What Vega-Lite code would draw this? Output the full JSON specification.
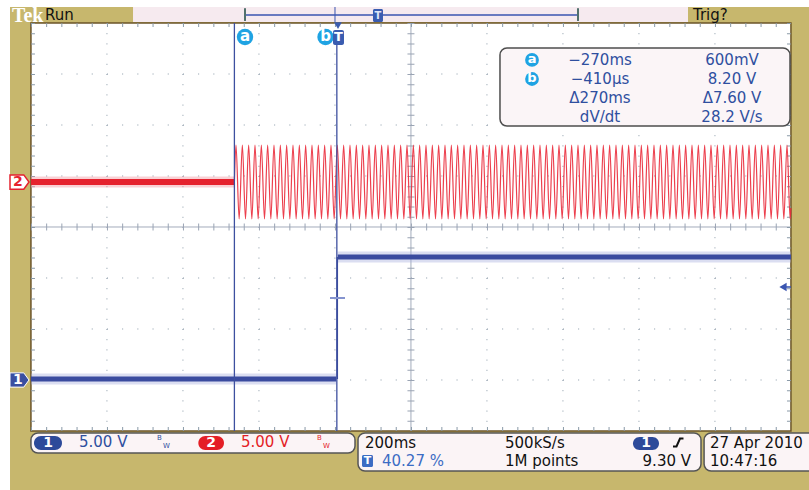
{
"$schema": "https://vega.github.io/schema/vega-lite/v6.json",
"width": 809, "height": 490, "padding": 0,
"autosize": {"type": "fit", "contains": "padding"},
"background": "#ffffff",
"config": {"view": {"stroke": null}, "text": {"font": "DejaVu Sans"}},
"datasets": {
"frame": [{"t": -860.5, "t2": 1300, "y": 4.314, "y2": -6}],
"topstrip": [{"t": -536.8, "t2": 923.7, "y": 4.314, "y2": 4.02}],
"screen": [{"t": -805.4, "t2": 1194.6, "y": 4, "y2": -4}],
"vgrid": [{"t": -605.4, "y": 4, "y2": -4}, {"t": -405.4, "y": 4, "y2": -4}, {"t": -205.4, "y": 4, "y2": -4}, {"t": -5.4, "y": 4, "y2": -4}, {"t": 394.6, "y": 4, "y2": -4}, {"t": 594.6, "y": 4, "y2": -4}, {"t": 794.6, "y": 4, "y2": -4}, {"t": 994.6, "y": 4, "y2": -4}],
"hgrid": [{"t": -805.4, "t2": 1194.6, "y": 3}, {"t": -805.4, "t2": 1194.6, "y": 2}, {"t": -805.4, "t2": 1194.6, "y": 1}, {"t": -805.4, "t2": 1194.6, "y": -1}, {"t": -805.4, "t2": 1194.6, "y": -2}, {"t": -805.4, "t2": 1194.6, "y": -3}],
"hcenter": [{"t": -805.4, "t2": 1194.6, "y": 0}],
"vcenter": [{"t": 194.6, "y": 4, "y2": -4}],
"topb": [{"t": -805.4, "t2": 1194.6, "y": 4}],
"botb": [{"t": -805.4, "t2": 1194.6, "y": -4}],
"leftb": [{"t": -805.4, "y": 4, "y2": -4}],
"rightb": [{"t": 1194.6, "y": 4, "y2": -4}],
"readbox": [{"t": 428.9, "t2": 1192.1, "y": 3.51, "y2": 1.98}],
"ch2flat": [{"t": -805.4, "y": 0.882}, {"t": -270, "y": 0.882}],
"ch2sine": [
{"t": -270, "y": 0.882},
{"t": -265.8, "y": 1.608}, {"t": -257.5, "y": 0.157}, {"t": -249.1, "y": 1.608}, {"t": -240.8, "y": 0.157}, {"t": -232.5, "y": 1.608}, {"t": -224.1, "y": 0.157},
{"t": -215.8, "y": 1.608}, {"t": -207.5, "y": 0.157}, {"t": -199.1, "y": 1.608}, {"t": -190.8, "y": 0.157}, {"t": -182.5, "y": 1.608}, {"t": -174.1, "y": 0.157},
{"t": -165.8, "y": 1.608}, {"t": -157.5, "y": 0.157}, {"t": -149.1, "y": 1.608}, {"t": -140.8, "y": 0.157}, {"t": -132.5, "y": 1.608}, {"t": -124.1, "y": 0.157},
{"t": -115.8, "y": 1.608}, {"t": -107.5, "y": 0.157}, {"t": -99.1, "y": 1.608}, {"t": -90.8, "y": 0.157}, {"t": -82.5, "y": 1.608}, {"t": -74.1, "y": 0.157},
{"t": -65.8, "y": 1.608}, {"t": -57.5, "y": 0.157}, {"t": -49.1, "y": 1.608}, {"t": -40.8, "y": 0.157}, {"t": -32.5, "y": 1.608}, {"t": -24.1, "y": 0.157},
{"t": -15.8, "y": 1.608}, {"t": -7.5, "y": 0.157}, {"t": 0.9, "y": 1.608}, {"t": 9.2, "y": 0.157}, {"t": 17.5, "y": 1.608}, {"t": 25.9, "y": 0.157},
{"t": 34.2, "y": 1.608}, {"t": 42.5, "y": 0.157}, {"t": 50.9, "y": 1.608}, {"t": 59.2, "y": 0.157}, {"t": 67.5, "y": 1.608}, {"t": 75.9, "y": 0.157},
{"t": 84.2, "y": 1.608}, {"t": 92.5, "y": 0.157}, {"t": 100.9, "y": 1.608}, {"t": 109.2, "y": 0.157}, {"t": 117.5, "y": 1.608}, {"t": 125.9, "y": 0.157},
{"t": 134.2, "y": 1.608}, {"t": 142.5, "y": 0.157}, {"t": 150.9, "y": 1.608}, {"t": 159.2, "y": 0.157}, {"t": 167.5, "y": 1.608}, {"t": 175.9, "y": 0.157},
{"t": 184.2, "y": 1.608}, {"t": 192.5, "y": 0.157}, {"t": 200.9, "y": 1.608}, {"t": 209.2, "y": 0.157}, {"t": 217.5, "y": 1.608}, {"t": 225.9, "y": 0.157},
{"t": 234.2, "y": 1.608}, {"t": 242.5, "y": 0.157}, {"t": 250.9, "y": 1.608}, {"t": 259.2, "y": 0.157}, {"t": 267.5, "y": 1.608}, {"t": 275.9, "y": 0.157},
{"t": 284.2, "y": 1.608}, {"t": 292.5, "y": 0.157}, {"t": 300.9, "y": 1.608}, {"t": 309.2, "y": 0.157}, {"t": 317.5, "y": 1.608}, {"t": 325.9, "y": 0.157},
{"t": 334.2, "y": 1.608}, {"t": 342.5, "y": 0.157}, {"t": 350.9, "y": 1.608}, {"t": 359.2, "y": 0.157}, {"t": 367.5, "y": 1.608}, {"t": 375.9, "y": 0.157},
{"t": 384.2, "y": 1.608}, {"t": 392.5, "y": 0.157}, {"t": 400.9, "y": 1.608}, {"t": 409.2, "y": 0.157}, {"t": 417.5, "y": 1.608}, {"t": 425.9, "y": 0.157},
{"t": 434.2, "y": 1.608}, {"t": 442.5, "y": 0.157}, {"t": 450.9, "y": 1.608}, {"t": 459.2, "y": 0.157}, {"t": 467.5, "y": 1.608}, {"t": 475.9, "y": 0.157},
{"t": 484.2, "y": 1.608}, {"t": 492.5, "y": 0.157}, {"t": 500.9, "y": 1.608}, {"t": 509.2, "y": 0.157}, {"t": 517.5, "y": 1.608}, {"t": 525.9, "y": 0.157},
{"t": 534.2, "y": 1.608}, {"t": 542.5, "y": 0.157}, {"t": 550.9, "y": 1.608}, {"t": 559.2, "y": 0.157}, {"t": 567.5, "y": 1.608}, {"t": 575.9, "y": 0.157},
{"t": 584.2, "y": 1.608}, {"t": 592.5, "y": 0.157}, {"t": 600.9, "y": 1.608}, {"t": 609.2, "y": 0.157}, {"t": 617.5, "y": 1.608}, {"t": 625.9, "y": 0.157},
{"t": 634.2, "y": 1.608}, {"t": 642.5, "y": 0.157}, {"t": 650.9, "y": 1.608}, {"t": 659.2, "y": 0.157}, {"t": 667.5, "y": 1.608}, {"t": 675.9, "y": 0.157},
{"t": 684.2, "y": 1.608}, {"t": 692.5, "y": 0.157}, {"t": 700.9, "y": 1.608}, {"t": 709.2, "y": 0.157}, {"t": 717.5, "y": 1.608}, {"t": 725.9, "y": 0.157},
{"t": 734.2, "y": 1.608}, {"t": 742.5, "y": 0.157}, {"t": 750.9, "y": 1.608}, {"t": 759.2, "y": 0.157}, {"t": 767.5, "y": 1.608}, {"t": 775.9, "y": 0.157},
{"t": 784.2, "y": 1.608}, {"t": 792.5, "y": 0.157}, {"t": 800.9, "y": 1.608}, {"t": 809.2, "y": 0.157}, {"t": 817.5, "y": 1.608}, {"t": 825.9, "y": 0.157},
{"t": 834.2, "y": 1.608}, {"t": 842.5, "y": 0.157}, {"t": 850.9, "y": 1.608}, {"t": 859.2, "y": 0.157}, {"t": 867.5, "y": 1.608}, {"t": 875.9, "y": 0.157},
{"t": 884.2, "y": 1.608}, {"t": 892.5, "y": 0.157}, {"t": 900.9, "y": 1.608}, {"t": 909.2, "y": 0.157}, {"t": 917.5, "y": 1.608}, {"t": 925.9, "y": 0.157},
{"t": 934.2, "y": 1.608}, {"t": 942.5, "y": 0.157}, {"t": 950.9, "y": 1.608}, {"t": 959.2, "y": 0.157}, {"t": 967.5, "y": 1.608}, {"t": 975.9, "y": 0.157},
{"t": 984.2, "y": 1.608}, {"t": 992.5, "y": 0.157}, {"t": 1000.9, "y": 1.608}, {"t": 1009.2, "y": 0.157}, {"t": 1017.5, "y": 1.608}, {"t": 1025.9, "y": 0.157},
{"t": 1034.2, "y": 1.608}, {"t": 1042.5, "y": 0.157}, {"t": 1050.9, "y": 1.608}, {"t": 1059.2, "y": 0.157}, {"t": 1067.5, "y": 1.608}, {"t": 1075.9, "y": 0.157},
{"t": 1084.2, "y": 1.608}, {"t": 1092.5, "y": 0.157}, {"t": 1100.9, "y": 1.608}, {"t": 1109.2, "y": 0.157}, {"t": 1117.5, "y": 1.608}, {"t": 1125.9, "y": 0.157},
{"t": 1134.2, "y": 1.608}, {"t": 1142.5, "y": 0.157}, {"t": 1150.9, "y": 1.608}, {"t": 1159.2, "y": 0.157}, {"t": 1167.5, "y": 1.608}, {"t": 1175.9, "y": 0.157},
{"t": 1184.2, "y": 1.608}, {"t": 1192.5, "y": 0.157}, {"t": 1194.6, "y": 0.37}
],
"ch1": [{"t": -805.4, "y": -2.98, "seg": "low"}, {"t": -2, "y": -2.98, "seg": "low"}, {"t": 2, "y": -0.588, "seg": "high"}, {"t": 1194.6, "y": -0.588, "seg": "high"}],
"ch1edge": [{"t": 0.8, "y": -2.98, "y2": -0.588}],
"cursors": [{"t": -270, "y": 4, "y2": -4}, {"t": -0.41, "y": 3.6, "y2": -4}],
"trigcross": [{"t": -18.4, "t2": 21.1, "y": -1.392}],
"triglevel": [{"t": 1173.7, "y": -1.176}],
"trigline": [{"t": 1181.6, "t2": 1194.6, "y": -1.176}],
"readcirc": [{"t": 513.2, "y": 3.275, "label": "a"}, {"t": 513.2, "y": 2.902, "label": "b"}],
"readc1": [{"t": 692.1, "y": 3.275, "label": "−270ms"}, {"t": 692.1, "y": 2.902, "label": "−410µs"}, {"t": 692.1, "y": 2.529, "label": "Δ270ms"}, {"t": 692.1, "y": 2.157, "label": "dV/dt"}],
"readc2": [{"t": 1039.5, "y": 3.275, "label": "600mV"}, {"t": 1039.5, "y": 2.902, "label": "8.20 V"}, {"t": 1039.5, "y": 2.529, "label": "Δ7.60 V"}, {"t": 1039.5, "y": 2.157, "label": "28.2 V/s"}],
"curcirc": [{"t": -242.1, "y": 3.725, "label": "a"}, {"t": -30.2, "y": 3.725, "label": "b"}],
"tbox": [{"t": -10.5, "t2": 18.4, "y": 3.863, "y2": 3.569}],
"tlabel": [{"t": 4, "y": 3.716, "label": "T"}],
"ttri": [{"t": 2.6, "y": 3.95}],
"recline": [{"t": -242.1, "t2": 634.2, "y": 4.157}],
"brackets": [{"t": -242.1, "y": 4.29, "y2": 4.04}, {"t": 634.2, "y": 4.29, "y2": 4.04}],
"recv": [{"t": -5.3, "y": 4.314, "y2": 4.02}],
"recT": [{"t": 94.7, "t2": 121, "y": 4.275, "y2": 4.02}],
"recTl": [{"t": 107.9, "y": 4.14, "label": "T"}],
"mk2": [{"t": -835.5, "y": 0.882}],
"mk2l": [{"t": -839.5, "y": 0.882, "label": "2"}],
"mk1": [{"t": -835.5, "y": -3.0}],
"mk1l": [{"t": -839.5, "y": -3.0, "label": "1"}],
"boxes": [{"t": -805.4, "t2": 47.4, "y": -4.039, "y2": -4.431}, {"t": 55.3, "t2": 957.9, "y": -4.039, "y2": -4.784}, {"t": 966, "t2": 1300, "y": -4.039, "y2": -4.784}],
"pillblue": [{"t": -797.4, "t2": -723.7, "y": -4.098, "y2": -4.373}, {"t": 778.9, "t2": 847.4, "y": -4.118, "y2": -4.373}],
"pillred": [{"t": -364.9, "t2": -297.4, "y": -4.098, "y2": -4.373}],
"pilltext": [{"t": -760.5, "y": -4.235, "label": "1"}, {"t": -331.1, "y": -4.235, "label": "2"}, {"t": 813.2, "y": -4.245, "label": "1"}],
"bluetext": [{"t": -678.9, "y": -4.225, "label": "5.00 V"}],
"redtext": [{"t": -252.6, "y": -4.225, "label": "5.00 V"}],
"bwblue": [{"t": -473.7, "y": -4.147, "label": "B"}, {"t": -458.2, "y": -4.294, "label": "W"}],
"bwred": [{"t": -52.6, "y": -4.147, "label": "B"}, {"t": -37.1, "y": -4.294, "label": "W"}],
"blacktext": [{"t": 73.7, "y": -4.235, "label": "200ms"}, {"t": 442.1, "y": -4.235, "label": "500kS/s"}, {"t": 442.1, "y": -4.588, "label": "1M points"}, {"t": 981.6, "y": -4.235, "label": "27 Apr 2010"}, {"t": 981.6, "y": -4.588, "label": "10:47:16"}],
"blackright": [{"t": 931.6, "y": -4.588, "label": "9.30 V"}],
"ltblue": [{"t": 118.4, "y": -4.588, "label": "40.27 %"}],
"ticon": [{"t": 65.8, "t2": 94.7, "y": -4.47, "y2": -4.706}],
"ticonl": [{"t": 80.3, "y": -4.588, "label": "T"}],
"edge": [{"t": 884.2, "y": -4.304}, {"t": 893.4, "y": -4.304}, {"t": 902.6, "y": -4.147}, {"t": 911.8, "y": -4.147}],
"tek": [{"t": -855.3, "y": 4.147, "label": "Tek"}],
"toptext": [{"t": -768.4, "y": 4.157, "label": "Run"}, {"t": 936.8, "y": 4.157, "label": "Trig?"}]
},
"encoding": {
"x": {"field": "t", "type": "quantitative", "scale": {"domain": [-886.84, 1242.1], "nice": false, "zero": false}, "axis": null},
"y": {"field": "y", "type": "quantitative", "scale": {"domain": [-5.1569, 4.451], "nice": false, "zero": false}, "axis": null}
},
"layer": [
{"data": {"name": "frame"}, "mark": {"type": "rect", "fill": "#c7b76d", "clip": true}, "encoding": {"x2": {"field": "t2"}, "y2": {"field": "y2"}}},
{"data": {"name": "topstrip"}, "mark": {"type": "rect", "fill": "#f6eaef", "clip": true}, "encoding": {"x2": {"field": "t2"}, "y2": {"field": "y2"}}},
{"data": {"name": "screen"}, "mark": {"type": "rect", "fill": "#ffffff", "stroke": "#6b5428", "strokeWidth": 1.5, "clip": true}, "encoding": {"x2": {"field": "t2"}, "y2": {"field": "y2"}}},
{"data": {"name": "vgrid"}, "mark": {"type": "rule", "stroke": "#8a9aa8", "strokeWidth": 1, "strokeDash": [1, 9.2], "clip": true}, "encoding": {"y2": {"field": "y2"}}},
{"data": {"name": "hgrid"}, "mark": {"type": "rule", "stroke": "#8a9aa8", "strokeWidth": 1, "strokeDash": [1, 14.2], "clip": true}, "encoding": {"x2": {"field": "t2"}}},
{"data": {"name": "hcenter"}, "mark": {"type": "rule", "stroke": "#a3acbc", "strokeWidth": 1, "clip": true}, "encoding": {"x2": {"field": "t2"}}},
{"data": {"name": "hcenter"}, "mark": {"type": "rule", "stroke": "#9aa4b4", "strokeWidth": 7, "strokeDash": [1, 14.2], "clip": true}, "encoding": {"x2": {"field": "t2"}}},
{"data": {"name": "vcenter"}, "mark": {"type": "rule", "stroke": "#a3acbc", "strokeWidth": 1, "clip": true}, "encoding": {"y2": {"field": "y2"}}},
{"data": {"name": "vcenter"}, "mark": {"type": "rule", "stroke": "#9aa4b4", "strokeWidth": 7, "strokeDash": [1, 9.2], "clip": true}, "encoding": {"y2": {"field": "y2"}}},
{"data": {"name": "topb"}, "mark": {"type": "rule", "stroke": "#8a9aa8", "strokeWidth": 4, "yOffset": 2, "strokeDash": [1, 14.2], "clip": true}, "encoding": {"x2": {"field": "t2"}}},
{"data": {"name": "botb"}, "mark": {"type": "rule", "stroke": "#8a9aa8", "strokeWidth": 4, "yOffset": -2, "strokeDash": [1, 14.2], "clip": true}, "encoding": {"x2": {"field": "t2"}}},
{"data": {"name": "leftb"}, "mark": {"type": "rule", "stroke": "#8a9aa8", "strokeWidth": 4, "xOffset": 2, "strokeDash": [1, 9.2], "clip": true}, "encoding": {"y2": {"field": "y2"}}},
{"data": {"name": "rightb"}, "mark": {"type": "rule", "stroke": "#8a9aa8", "strokeWidth": 4, "xOffset": -2, "strokeDash": [1, 9.2], "clip": true}, "encoding": {"y2": {"field": "y2"}}},
{"data": {"name": "readbox"}, "mark": {"type": "rect", "fill": "#fbf5f7", "stroke": "#4d4d4d", "strokeWidth": 1.5, "cornerRadius": 7, "clip": true}, "encoding": {"x2": {"field": "t2"}, "y2": {"field": "y2"}}},
{"data": {"name": "ch2flat"}, "mark": {"type": "line", "stroke": "#f19aa2", "strokeWidth": 11, "opacity": 0.45, "clip": true}, "encoding": {}},
{"data": {"name": "ch2flat"}, "mark": {"type": "line", "stroke": "#e5222e", "strokeWidth": 6, "clip": true}, "encoding": {}},
{"data": {"name": "ch2sine"}, "mark": {"type": "line", "stroke": "#ea2a3a", "strokeWidth": 1.2, "opacity": 0.9, "interpolate": "monotone", "clip": true}, "encoding": {}},
{"data": {"name": "ch1"}, "mark": {"type": "line", "stroke": "#a4acdc", "strokeWidth": 11, "opacity": 0.4, "clip": true}, "encoding": {"detail": {"field": "seg"}}},
{"data": {"name": "ch1"}, "mark": {"type": "line", "stroke": "#3a4b9f", "strokeWidth": 5, "clip": true}, "encoding": {"detail": {"field": "seg"}}},
{"data": {"name": "ch1edge"}, "mark": {"type": "rule", "stroke": "#3a4b9f", "strokeWidth": 1.5, "clip": true}, "encoding": {"y2": {"field": "y2"}}},
{"data": {"name": "cursors"}, "mark": {"type": "rule", "stroke": "#3d4f9f", "strokeWidth": 1.3, "clip": true}, "encoding": {"y2": {"field": "y2"}}},
{"data": {"name": "trigcross"}, "mark": {"type": "rule", "stroke": "#8594cf", "strokeWidth": 2, "clip": true}, "encoding": {"x2": {"field": "t2"}}},
{"data": {"name": "triglevel"}, "mark": {"type": "point", "shape": "triangle-left", "size": 70, "filled": true, "fill": "#3a55b0", "opacity": 1, "clip": true}},
{"data": {"name": "trigline"}, "mark": {"type": "rule", "stroke": "#3a55b0", "strokeWidth": 1.5, "clip": true}, "encoding": {"x2": {"field": "t2"}}},
{"data": {"name": "readcirc"}, "mark": {"type": "point", "shape": "circle", "size": 190, "filled": true, "fill": "#1fa3e3", "opacity": 1, "clip": true}},
{"data": {"name": "readcirc"}, "mark": {"type": "text", "color": "#ffffff", "fontSize": 13, "fontWeight": "bold", "align": "center", "baseline": "middle", "dy": -1, "clip": true}, "encoding": {"text": {"field": "label"}}},
{"data": {"name": "readc1"}, "mark": {"type": "text", "color": "#2f4f9f", "fontSize": 15, "align": "center", "baseline": "middle", "clip": true}, "encoding": {"text": {"field": "label"}}},
{"data": {"name": "readc2"}, "mark": {"type": "text", "color": "#2f4f9f", "fontSize": 15, "align": "center", "baseline": "middle", "clip": true}, "encoding": {"text": {"field": "label"}}},
{"data": {"name": "curcirc"}, "mark": {"type": "point", "shape": "circle", "size": 270, "filled": true, "fill": "#1fa3e3", "opacity": 1, "clip": true}},
{"data": {"name": "curcirc"}, "mark": {"type": "text", "color": "#ffffff", "fontSize": 15, "fontWeight": "bold", "align": "center", "baseline": "middle", "dy": -1, "clip": true}, "encoding": {"text": {"field": "label"}}},
{"data": {"name": "tbox"}, "mark": {"type": "rect", "fill": "#3a5cb0", "cornerRadius": 2, "clip": true}, "encoding": {"x2": {"field": "t2"}, "y2": {"field": "y2"}}},
{"data": {"name": "tlabel"}, "mark": {"type": "text", "color": "#ffffff", "fontSize": 13, "fontWeight": "bold", "align": "center", "baseline": "middle", "clip": true}, "encoding": {"text": {"field": "label"}}},
{"data": {"name": "ttri"}, "mark": {"type": "point", "shape": "triangle-down", "size": 60, "filled": true, "fill": "#3a5cb0", "opacity": 1, "clip": true}},
{"data": {"name": "recline"}, "mark": {"type": "rule", "stroke": "#3a55b0", "strokeWidth": 1.5, "clip": true}, "encoding": {"x2": {"field": "t2"}}},
{"data": {"name": "brackets"}, "mark": {"type": "rule", "stroke": "#51706c", "strokeWidth": 2, "clip": true}, "encoding": {"y2": {"field": "y2"}}},
{"data": {"name": "recv"}, "mark": {"type": "rule", "stroke": "#3a55b0", "strokeWidth": 1, "clip": true}, "encoding": {"y2": {"field": "y2"}}},
{"data": {"name": "recT"}, "mark": {"type": "rect", "fill": "#3a5cb0", "cornerRadius": 1.5, "clip": true}, "encoding": {"x2": {"field": "t2"}, "y2": {"field": "y2"}}},
{"data": {"name": "recTl"}, "mark": {"type": "text", "color": "#dfe6f7", "fontSize": 10, "fontWeight": "bold", "align": "center", "baseline": "middle", "clip": true}, "encoding": {"text": {"field": "label"}}},
{"data": {"name": "mk2"}, "mark": {"type": "point", "shape": "M-1,-0.75L0.45,-0.75L1,0L0.45,0.75L-1,0.75Z", "size": 361, "fill": "#ffffff", "stroke": "#e5222e", "strokeWidth": 1.5, "opacity": 1, "clip": true}},
{"data": {"name": "mk2l"}, "mark": {"type": "text", "color": "#e5222e", "fontSize": 14, "fontWeight": "bold", "align": "center", "baseline": "middle", "clip": true}, "encoding": {"text": {"field": "label"}}},
{"data": {"name": "mk1"}, "mark": {"type": "point", "shape": "M-1,-0.75L0.45,-0.75L1,0L0.45,0.75L-1,0.75Z", "size": 361, "fill": "#3a4fa0", "stroke": "#ffffff", "strokeWidth": 1, "opacity": 1, "clip": true}},
{"data": {"name": "mk1l"}, "mark": {"type": "text", "color": "#ffffff", "fontSize": 14, "fontWeight": "bold", "align": "center", "baseline": "middle", "clip": true}, "encoding": {"text": {"field": "label"}}},
{"data": {"name": "boxes"}, "mark": {"type": "rect", "fill": "#fbf4f6", "stroke": "#555555", "strokeWidth": 1.5, "cornerRadius": 7, "clip": true}, "encoding": {"x2": {"field": "t2"}, "y2": {"field": "y2"}}},
{"data": {"name": "pillblue"}, "mark": {"type": "rect", "fill": "#2d4a9a", "cornerRadius": 7, "clip": true}, "encoding": {"x2": {"field": "t2"}, "y2": {"field": "y2"}}},
{"data": {"name": "pillred"}, "mark": {"type": "rect", "fill": "#e41e26", "cornerRadius": 7, "clip": true}, "encoding": {"x2": {"field": "t2"}, "y2": {"field": "y2"}}},
{"data": {"name": "pilltext"}, "mark": {"type": "text", "color": "#ffffff", "fontSize": 14, "fontWeight": "bold", "align": "center", "baseline": "middle", "clip": true}, "encoding": {"text": {"field": "label"}}},
{"data": {"name": "bluetext"}, "mark": {"type": "text", "color": "#2f4f9f", "fontSize": 15, "align": "left", "baseline": "middle", "clip": true}, "encoding": {"text": {"field": "label"}}},
{"data": {"name": "redtext"}, "mark": {"type": "text", "color": "#e41e26", "fontSize": 15, "align": "left", "baseline": "middle", "clip": true}, "encoding": {"text": {"field": "label"}}},
{"data": {"name": "bwblue"}, "mark": {"type": "text", "color": "#2f4f9f", "fontSize": 7, "align": "left", "baseline": "middle", "clip": true}, "encoding": {"text": {"field": "label"}}},
{"data": {"name": "bwred"}, "mark": {"type": "text", "color": "#e41e26", "fontSize": 7, "align": "left", "baseline": "middle", "clip": true}, "encoding": {"text": {"field": "label"}}},
{"data": {"name": "blacktext"}, "mark": {"type": "text", "color": "#111111", "fontSize": 15, "align": "left", "baseline": "middle", "clip": true}, "encoding": {"text": {"field": "label"}}},
{"data": {"name": "blackright"}, "mark": {"type": "text", "color": "#111111", "fontSize": 15, "align": "right", "baseline": "middle", "clip": true}, "encoding": {"text": {"field": "label"}}},
{"data": {"name": "ltblue"}, "mark": {"type": "text", "color": "#3c6cc4", "fontSize": 15, "align": "left", "baseline": "middle", "clip": true}, "encoding": {"text": {"field": "label"}}},
{"data": {"name": "ticon"}, "mark": {"type": "rect", "fill": "#3c6cc4", "cornerRadius": 1.5, "clip": true}, "encoding": {"x2": {"field": "t2"}, "y2": {"field": "y2"}}},
{"data": {"name": "ticonl"}, "mark": {"type": "text", "color": "#ffffff", "fontSize": 11, "fontWeight": "bold", "align": "center", "baseline": "middle", "clip": true}, "encoding": {"text": {"field": "label"}}},
{"data": {"name": "edge"}, "mark": {"type": "line", "stroke": "#111111", "strokeWidth": 2, "clip": true}, "encoding": {}},
{"data": {"name": "tek"}, "mark": {"type": "text", "color": "#ffffff", "font": "Liberation Serif", "fontSize": 20, "fontWeight": "bold", "align": "left", "baseline": "middle", "clip": true}, "encoding": {"text": {"field": "label"}}},
{"data": {"name": "toptext"}, "mark": {"type": "text", "color": "#111111", "fontSize": 15, "align": "left", "baseline": "middle", "clip": true}, "encoding": {"text": {"field": "label"}}}
]
}
